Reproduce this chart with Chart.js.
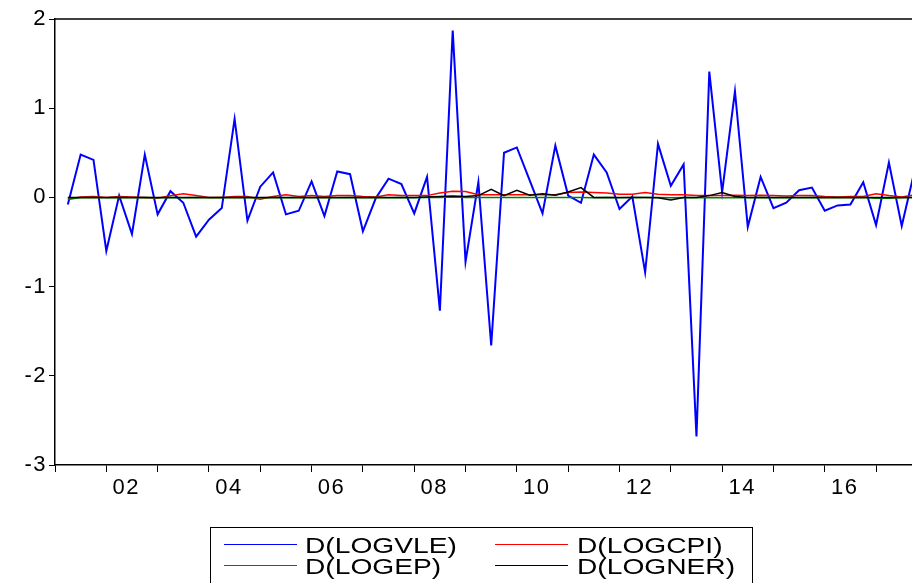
<!DOCTYPE html>
<html>
<head>
<meta charset="utf-8">
<script src="https://cdn.jsdelivr.net/npm/chart.js"></script>
<style>
  html, body { margin: 0; padding: 0; background: #fff; overflow: hidden; }
  #wrap { position: relative; width: 912px; height: 583px; overflow: hidden; }
  #legend {
    position: absolute; left: 210px; top: 527px; width: 541px; height: 80px;
    border: 1px solid #000; font-family: 'Liberation Sans', Arial, sans-serif;
    font-size: 22px; color: #000;
  }
  .swatch { position: absolute; width: 73px; height: 0; border-top: 1.5px solid; }
  .label {
    position: absolute; white-space: nowrap; line-height: 22px;
    transform: scaleX(1.28); transform-origin: left center;
  }
</style>
</head>
<body>
<div id="wrap">
  <canvas id="chart" width="912" height="583"></canvas>
  <div id="legend"></div>
</div>
<script>
// quarterly periods 2001Q1 .. 2017Q4 (first difference missing in 2001Q1)
const years = [2001, 2002, 2003, 2004, 2005, 2006, 2007, 2008, 2009,
  2010, 2011, 2012, 2013, 2014, 2015, 2016, 2017];
const quarters = [];
years.forEach(y => { for (let q = 1; q <= 4; q++) quarters.push(y + 'Q' + q); });

// tick labels, one per year boundary
const tickLabels = ['', '02', '', '04', '', '06', '', '08', '', '10', '', '12', '', '14', '', '16', ''];

const dLogVLE = [null,
  -0.08, 0.48, 0.42, -0.60, 0.02, -0.41, 0.48, -0.19, 0.07, -0.06,
  -0.44, -0.25, -0.12, 0.88, -0.26, 0.12, 0.28, -0.19, -0.15, 0.18,
  -0.21, 0.29, 0.26, -0.38, -0.01, 0.21, 0.15, -0.18, 0.23, -1.27,
  1.87, -0.72, 0.17, -1.66, 0.50, 0.56, 0.19, -0.18, 0.58, 0.02,
  -0.06, 0.48, 0.28, -0.13, 0.01, -0.84, 0.60, 0.13, 0.37, -2.68,
  1.41, 0.06, 1.19, -0.33, 0.23, -0.12, -0.06, 0.08, 0.11, -0.15,
  -0.09, -0.08, 0.17, -0.31, 0.39, -0.32, 0.30];

const dLogCPI = [null,
  -0.02, 0.005, 0.01, 0.00, 0.01, 0.005, 0.00, -0.01, 0.02, 0.04,
  0.02, 0.00, 0.00, 0.01, 0.01, -0.02, 0.01, 0.03, 0.01, 0.02,
  0.01, 0.02, 0.02, 0.01, 0.005, 0.03, 0.02, 0.02, 0.02, 0.05,
  0.07, 0.065, 0.03, 0.03, 0.03, 0.03, 0.03, 0.03, 0.03, 0.055,
  0.06, 0.055, 0.05, 0.035, 0.035, 0.055, 0.035, 0.03, 0.03, 0.02,
  0.02, 0.02, 0.025, 0.02, 0.025, 0.02, 0.015, 0.02, 0.02, 0.01,
  0.005, 0.01, 0.01, 0.04, 0.02, 0.005, 0.03];

const dLogEP = [null,
  -0.02, -0.005, 0.00, -0.005, 0.00, -0.005, 0.00, -0.005, 0.00, -0.005,
  0.00, -0.005, 0.00, -0.005, 0.00, -0.005, 0.00, -0.005, 0.00, -0.005,
  0.00, -0.005, 0.00, -0.005, 0.00, -0.005, 0.00, -0.005, 0.00, 0.00,
  0.005, 0.00, 0.00, 0.00, 0.00, 0.00, 0.00, 0.00, 0.00, 0.00,
  0.00, -0.005, 0.00, -0.005, 0.00, 0.00, 0.00, -0.005, 0.00, -0.005,
  0.00, -0.005, 0.00, -0.005, 0.00, -0.005, 0.00, -0.005, 0.00, -0.005,
  0.00, -0.005, 0.00, -0.01, -0.01, -0.005, 0.00];

const dLogNER = [null,
  0.00, 0.00, 0.00, 0.00, 0.00, 0.00, 0.00, 0.00, 0.00, 0.00,
  0.00, 0.00, 0.00, 0.00, 0.00, 0.00, 0.00, 0.00, 0.00, 0.00,
  0.00, 0.00, 0.00, 0.00, 0.00, 0.00, 0.00, 0.00, 0.005, 0.01,
  0.015, 0.01, 0.02, 0.09, 0.02, 0.08, 0.025, 0.04, 0.025, 0.06,
  0.11, 0.00, 0.00, 0.00, 0.00, 0.00, -0.005, -0.03, 0.00, 0.00,
  0.02, 0.055, 0.01, 0.00, 0.00, 0.00, 0.00, 0.00, 0.00, 0.00,
  0.00, 0.00, 0.00, 0.00, 0.00, 0.00, 0.00];

const seriesNames = ['D(LOGVLE)', 'D(LOGCPI)', 'D(LOGEP)', 'D(LOGNER)'];
const seriesColors = ['#0000FF', '#FF0000', '#008000', '#000000'];
const seriesData = [dLogVLE, dLogCPI, dLogEP, dLogNER];

const tickFont = { family: "'Liberation Sans', Arial, sans-serif", size: 22 };

// points keyed by quarter index, so the left edge is 2001Q1
const toPoints = arr => arr.map((v, i) => ({ x: i, y: v }));

// EViews-like frame line on top + slightly wider text
const framePlugin = {
  id: 'frame',
  beforeDraw(chart) {
    chart.ctx.letterSpacing = '1.5px';
  },
  afterDraw(chart) {
    const { ctx, chartArea } = chart;
    ctx.save();
    ctx.strokeStyle = '#000';
    ctx.lineWidth = 1.5;
    ctx.beginPath();
    ctx.moveTo(chartArea.left, chartArea.top);
    ctx.lineTo(chartArea.right, chartArea.top);
    ctx.stroke();
    ctx.restore();
  }
};

const chart = new Chart(document.getElementById('chart').getContext('2d'), {
  type: 'line',
  data: {
    datasets: seriesData.map((arr, i) => ({
      label: seriesNames[i],
      data: toPoints(arr),
      borderColor: seriesColors[i],
      backgroundColor: seriesColors[i],
      borderWidth: i === 0 ? 2 : 1.5,
      pointRadius: 0,
      tension: 0,
      order: 3 - i
    }))
  },
  options: {
    responsive: false,
    animation: false,
    layout: { padding: { top: 19, left: 0, right: 0, bottom: 0 } },
    plugins: { legend: { display: false }, tooltip: { enabled: false } },
    scales: {
      x: {
        type: 'linear',
        min: 0,
        max: 66.8,
        afterBuildTicks: axis => {
          axis.ticks = years.map((y, i) => ({ value: i * 4 }));
        },
        afterFit: scale => { scale.height = 118; },
        grid: { drawOnChartArea: false, drawTicks: true, tickLength: 7, color: '#000', lineWidth: 1 },
        border: { display: true, color: '#000', width: 1.5 },
        ticks: {
          autoSkip: false,
          maxRotation: 0,
          labelOffset: 20,
          padding: 3,
          color: '#000',
          font: tickFont,
          callback: (value, index) => tickLabels[index]
        }
      },
      y: {
        min: -3,
        max: 2,
        afterFit: scale => { scale.width = 55; },
        grid: { drawOnChartArea: false, drawTicks: true, tickLength: 6, color: '#000', lineWidth: 1 },
        border: { display: true, color: '#000', width: 1.5 },
        ticks: { stepSize: 1, padding: 2, color: '#000', font: tickFont }
      }
    }
  },
  plugins: [framePlugin]
});

// legend box: two columns, built from the chart's datasets
const legend = document.getElementById('legend');
chart.data.datasets.forEach((ds, i) => {
  const col = i % 2, row = Math.floor(i / 2);
  const sw = document.createElement('div');
  sw.className = 'swatch';
  sw.style.borderTopColor = ds.borderColor;
  sw.style.left = (13 + col * 271) + 'px';
  sw.style.top = (16 + row * 21) + 'px';
  const lb = document.createElement('div');
  lb.className = 'label';
  lb.textContent = ds.label;
  lb.style.left = (94 + col * 272) + 'px';
  lb.style.top = (7 + row * 21) + 'px';
  legend.appendChild(sw);
  legend.appendChild(lb);
});
</script>
</body>
</html>
